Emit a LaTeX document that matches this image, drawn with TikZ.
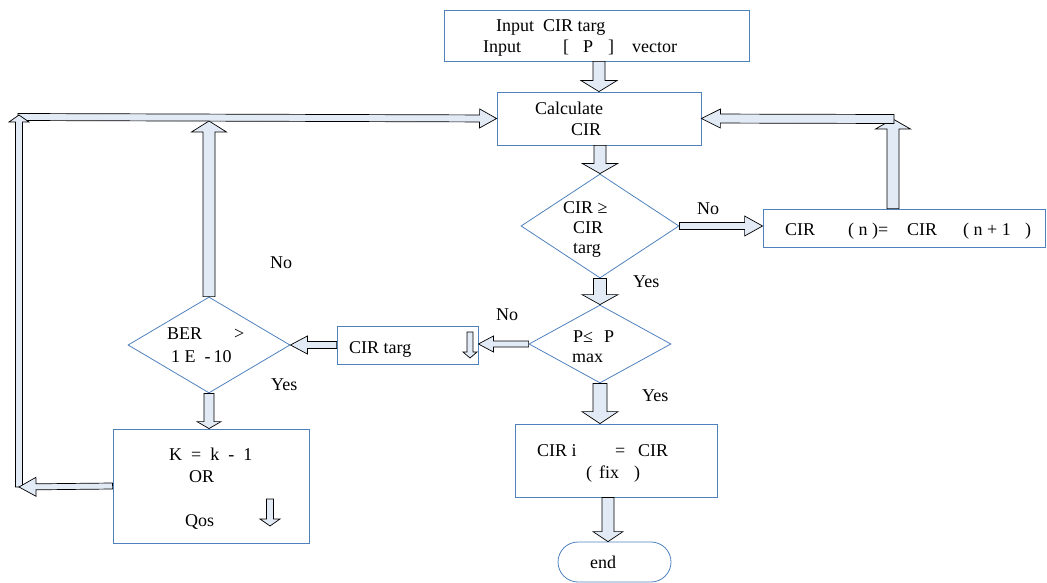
\documentclass[tikz,border=0pt]{standalone}
\usepackage{fontspec}
\setmainfont{Liberation Serif}
\usetikzlibrary{calc,shapes.geometric}
\definecolor{boxblue}{RGB}{79,129,189}
\definecolor{arrowfill}{RGB}{226,234,246}
\tikzset{
  box/.style={draw=boxblue, line width=0.8pt, rectangle, inner sep=0pt},
  dia/.style={draw=boxblue, line width=0.8pt, diamond, inner sep=0pt},
  blockarrow/.style={fill=arrowfill, draw=black, line width=0.7pt, line join=miter},
  txt/.style={anchor=base west, inner sep=0pt, font=\fontsize{18}{20}\selectfont}
}
% #1 from, #2 to, #3 half shaft width, #4 half head width, #5 head length
\newcommand\barrow[5]{%
  \path (#1) coordinate (ba-A) (#2) coordinate (ba-B);
  \path ($(ba-B)!#5!(ba-A)$) coordinate (ba-H);
  \filldraw[blockarrow] ($(ba-A)!#3!90:(ba-B)$) -- ($(ba-H)!#3!-90:(ba-A)$) -- ($(ba-H)!#4!-90:(ba-A)$) -- (ba-B) -- ($(ba-H)!#4!90:(ba-A)$) -- ($(ba-H)!#3!90:(ba-A)$) -- ($(ba-A)!#3!-90:(ba-B)$) -- cycle;
}
\begin{document}
\begin{tikzpicture}[x=1pt,y=-1pt]
\useasboundingbox (0,0) rectangle (1047,583);
% shapes
\node[box, minimum width=305pt, minimum height=51pt] (top) at (596.5,35.5) {};
\node[box, minimum width=204pt, minimum height=53pt] (calc) at (599,118.5) {};
\node[dia, minimum width=158pt, minimum height=104pt] (d1) at (600,226) {};
\node[box, minimum width=282pt, minimum height=38pt] (rbox) at (904,228) {};
\node[dia, minimum width=142pt, minimum height=78pt] (d2) at (600,344) {};
\node[box, minimum width=141pt, minimum height=38pt] (targ) at (407.5,345) {};
\node[dia, minimum width=162pt, minimum height=96pt] (ber) at (209,345) {};
\node[box, minimum width=196pt, minimum height=114pt] (kbox) at (211,486) {};
\node[box, minimum width=202pt, minimum height=73pt] (ciri) at (616,460.5) {};
\node[draw=boxblue, line width=0.8pt, rectangle, rounded corners=20pt, minimum width=113pt, minimum height=40pt, inner sep=0pt] (endn) at (614.5,562) {};
% helper coordinates
\coordinate (rup) at (893,119);
\coordinate (berup) at (209,121);
\coordinate (lefttop) at (18,117);
\coordinate (lefttip) at (19,115);
\coordinate (leftbot) at (19,487);
% texts
\node[txt] (t1) at (496,32) {Input\ \ CIR targ};
\node[txt] (t2a) at (483,53) {Input};
\node[txt] (t2b) at (563,53) {[};
\node[txt] (t2c) at (583,53) {P};
\node[txt] (t2d) at (608,53) {]};
\node[txt] (t2e) at (632,53) {vector};
\node[txt] (t3) at (535,115) {Calculate};
\node[txt] (t4) at (571,136) {CIR};
\node[txt] (t5) at (563,213) {CIR ≥};
\node[txt] (t6) at (573,233) {CIR};
\node[txt] (t7) at (573,253) {targ};
\node[txt] (no1) at (697,214) {No};
\node[txt] (t8a) at (785,235) {CIR};
\node[txt] (t8b) at (848,235) {( n )=};
\node[txt] (t8c) at (907,235) {CIR};
\node[txt] (t8d) at (963,235) {( n + 1};
\node[txt] (t8e) at (1025,235) {)};
\node[txt] (yes1) at (633,287) {Yes};
\node[txt] (t9a) at (573,342) {P≤};
\node[txt] (t9b) at (604,342) {P};
\node[txt] (t9c) at (572,362) {max};
\node[txt] (no2) at (496,320) {No};
\node[txt] (t10) at (349,353) {CIR targ};
\node[txt] (t11a) at (167,339) {BER};
\node[txt] (t11b) at (234,339) {>};
\node[txt] (t11c) at (171,362) {1 E\ \ -\,10};
\node[txt] (yes2) at (271,390) {Yes};
\node[txt] (no3) at (270,268) {No};
\node[txt] (t12a) at (169,460) {K\ \ =\ \ k\ \ -\ \ 1};
\node[txt] (t12b) at (189,482) {OR};
\node[txt] (t12c) at (185,526) {Qos};
\node[txt] (yes3) at (642,401) {Yes};
\node[txt] (t13a) at (537,456) {CIR i};
\node[txt] (t13b) at (615,456) {=};
\node[txt] (t13c) at (638,456) {CIR};
\node[txt] (t13d) at (586,478) {(};
\node[txt] (t13e) at (599,478) {fix};
\node[txt] (t13f) at (634,478) {)};
\node[txt] (t14) at (590,568) {end};
% block arrows
\barrow{top.south -| calc.north}{calc.north}{6pt}{18pt}{11pt}
\barrow{calc.south -| d1.north}{d1.north}{6pt}{17.5pt}{10pt}
\barrow{d1.east}{rbox.west |- d1.east}{3.5pt}{10pt}{18pt}
\barrow{rbox.north -| rup}{rup}{6pt}{17.5pt}{10pt}
\barrow{[xshift=1pt]rup}{calc.east}{4.5pt}{9.5pt}{19pt}
\barrow{d1.south}{d2.north}{6.5pt}{18pt}{10pt}
\barrow{d2.west}{targ.east |- d2.west}{3pt}{8pt}{15pt}
\barrow{targ.west}{ber.east}{3.5pt}{9pt}{17pt}
\barrow{ber.north}{berup}{6pt}{17.5pt}{11pt}
\barrow{lefttop}{calc.west}{3.5pt}{9.5pt}{17pt}
\barrow{leftbot}{lefttip}{3.5pt}{10pt}{7pt}
\barrow{kbox.west}{leftbot}{3pt}{9.5pt}{17pt}
\barrow{ber.south}{ber.south |- kbox.north}{5pt}{12pt}{7pt}
\barrow{d2.south}{d2.south |- ciri.north}{7pt}{18pt}{12pt}
\barrow{[xshift=-8pt]ciri.south}{[xshift=-6.5pt]endn.north}{6pt}{15pt}{10pt}
% small arrows inside boxes
\coordinate (sa1) at (470,332);
\coordinate (sa2) at (470,358);
\barrow{sa1}{sa2}{3pt}{7pt}{6pt}
\coordinate (sb1) at (270,499);
\coordinate (sb2) at (270,526);
\barrow{sb1}{sb2}{3.5pt}{10pt}{7pt}
\end{tikzpicture}
\end{document}
